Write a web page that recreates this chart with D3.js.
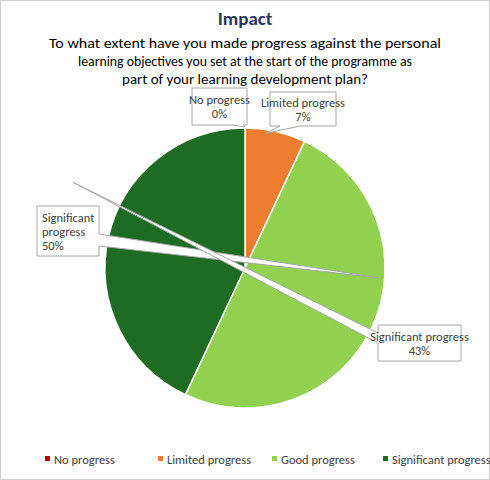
<!DOCTYPE html>
<html><head><script src="https://cdn.jsdelivr.net/npm/d3@7"></script>
<style>body{margin:0;background:#fff}</style></head>
<body><svg id="c" width="490" height="480"></svg>
<script>
const categories = ["No progress","Limited progress","Good progress","Significant progress"];
const values = [0, 7, 50, 43];
const colors = ["#C00000","#ED7D31","#92D050","#1E6B24"];
const labelText = ["0%","7%","50%","43%"];

const svg = d3.select("#c");
const F = "Carlito, 'Liberation Sans Narrow', 'Open Sans', sans-serif";
svg.append("rect").attr("x",0.5).attr("y",0.5).attr("width",489).attr("height",479).attr("fill","#fff").attr("stroke","#D0D0D0");
svg.append("text").attr("x",245).attr("y",25).attr("text-anchor","middle").attr("font-family",F)
  .attr("font-size",19).attr("font-weight","bold").attr("fill","#1F3864").text("Impact");
const sub = ["To what extent have you made progress against the personal",
  "learning objectives you set at the start of the programme as",
  "part of your learning development plan?"];
const subW = [392, 334, 246];
sub.forEach((s,i)=>svg.append("text").attr("x",245).attr("y",48+i*18).attr("text-anchor","middle")
  .attr("font-family",F).attr("font-size",14.5).attr("fill","#000").attr("textLength",subW[i]).attr("lengthAdjust","spacingAndGlyphs").text(s));

const cx=245, cy=268, R=140;
const pie = d3.pie().sort(null).value(d=>d)(values);
const arc = d3.arc().innerRadius(0).outerRadius(R);
const g = svg.append("g").attr("transform",`translate(${cx},${cy})`);
g.selectAll("path").data(pie).join("path").attr("d",arc).attr("fill",(d,i)=>colors[i])
  .attr("stroke","#fff").attr("stroke-width",1.5);

// callouts: box [x,y,w,h], pointer tip computed from arc edge
const boxes = [[192,88,55,37],[270,92,66,34],[37,206,62,50],[378,325,83,36]];
const tipAng = [0, 0.22, null, null];
pie.forEach((d,i)=>{
  const [bx,by,bw,bh]=boxes[i];
  const a = (d.startAngle+d.endAngle)/2;
  const tx = cx + Math.sin(a)*R, ty = cy - Math.cos(a)*R;
  let p;
  if(i===0) p=`M${bx},${by}H${bx+bw}V${by+bh}H${bx+bw-4}L${tx},${ty-1}L${bx+bw-14},${by+bh}H${bx}Z`;
  else if(i===1) p=`M${bx},${by}H${bx+bw}V${by+bh}H${bx+30}L${tx-10},${ty+2}L${bx+10},${by+bh}H${bx}Z`;
  else if(i===2) p=`M${bx},${by}H${bx+bw}V${by+28}L${tx+6},${ty-50}L${bx+bw},${by+40}V${by+bh}H${bx}Z`;
  else p=`M${bx},${by}H${bx+bw}V${by+bh}H${bx}V${by+18}L${tx-35},${ty-55}L${bx},${by+8}Z`;
  svg.append("path").attr("d",p).attr("fill","#fff").attr("stroke","#A6A6A6");
  const words = i===2 ? ["Significant","progress",labelText[i]] : [categories[i],labelText[i]];
  const y0 = by + bh/2 - (words.length-1)*14/2 + 4.5;
  words.forEach((w,k)=>svg.append("text").attr("x",bx+bw/2).attr("y",y0+k*14).attr("text-anchor",i===2?"start":"middle")
    .attr("dx",i===2?-bw/2+5:0)
    .attr("font-family",F).attr("font-size",12.5).attr("fill","#404040").text(w));
});

// legend
const lx=[45,158,272,383];
categories.forEach((c,i)=>{
  svg.append("rect").attr("x",lx[i]).attr("y",456).attr("width",5).attr("height",5).attr("fill",colors[i]);
  svg.append("text").attr("x",lx[i]+9).attr("y",464).attr("font-family",F).attr("font-size",12.5).attr("fill","#404040").text(c);
});
</script></body></html>
